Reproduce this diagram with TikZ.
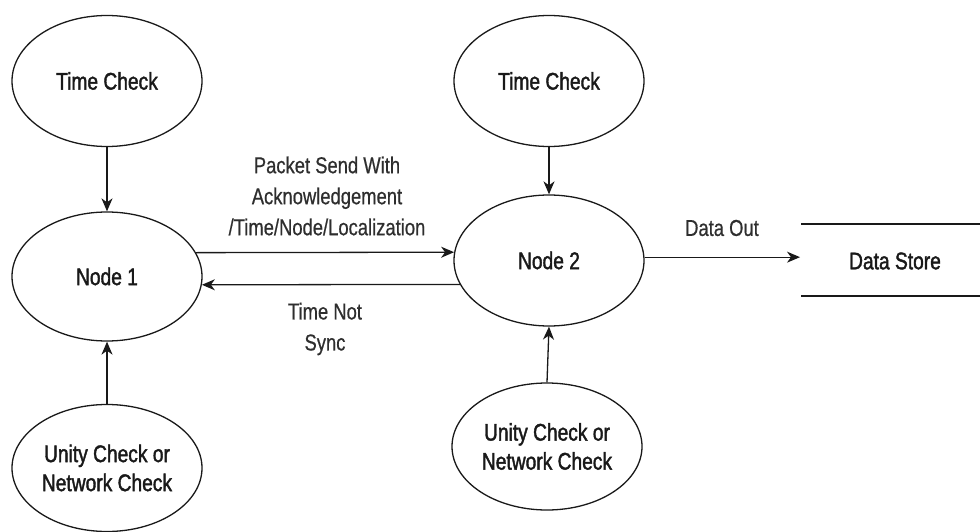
\documentclass[tikz,border=0pt]{standalone}
\usepackage{fontspec}
\setmainfont[FakeStretch=0.8]{Liberation Sans}
\newfontfamily\nodefont[FakeStretch=0.8,FakeBold=1.6]{Liberation Sans}
\newfontfamily\edgefont[FakeStretch=0.8,FakeBold=0.6]{Liberation Sans}
\usetikzlibrary{shapes.geometric,arrows.meta}
\definecolor{ink}{gray}{0.1}
\definecolor{lbl}{gray}{0.18}
\tikzset{
  bubble/.style={ellipse, draw=ink, line width=1.3pt, inner sep=0pt,
    minimum width=190pt, align=center, text=ink, font=\nodefont\fontsize{24}{29}\selectfont},
  arr/.style={draw=ink, line width=1.3pt, -{Stealth[length=13pt,width=11pt,inset=4pt]}},
  plain/.style={draw=ink, line width=1.3pt},
  elabel/.style={align=center, text=lbl, inner sep=0pt, font=\edgefont\fontsize{23}{31}\selectfont}
}
\begin{document}
\begin{tikzpicture}[x=1pt,y=-1pt]
\useasboundingbox (0,0) rectangle (980,532);
% nodes
\node[bubble, minimum height=131pt] (tc1) at (107,81) {Time Check};
\node[bubble, minimum height=129pt] (n1) at (107,276.5) {Node 1};
\node[bubble, minimum height=127pt] (uc1) at (107,468) {Unity Check or\\Network Check};
\node[bubble, minimum height=131pt] (tc2) at (549,81) {Time Check};
\node[bubble, minimum height=131pt] (n2) at (549,260.5) {Node 2};
\node[bubble, minimum height=127pt] (uc2) at (547,446.5) {Unity Check or\\Network Check};
\node[text=ink, inner sep=0pt, font=\nodefont\fontsize{24}{29}\selectfont] (ds) at (895,261) {Data Store};
% data store lines
\coordinate (dsTL) at (801,224);
\coordinate (dsTR) at (980,224);
\coordinate (dsBL) at (801,296);
\coordinate (dsBR) at (980,296);
\coordinate (dsin) at (800,257);
\draw[plain] (dsTL) -- (dsTR);
\draw[plain] (dsBL) -- (dsBR);
% connectors
\draw[arr] (tc1.south) -- (n1.north);
\draw[arr] (uc1.north) -- (n1.south);
\draw[arr] (tc2.south) -- (n2.north);
\draw[arr] (uc2.north) -- (n2.south);
\draw[arr] (n1.15) -- (n2.175);
\draw[arr] (n2.195) -- (n1.355);
\draw[arr] (n2.2) -- (n2.2 -| dsin);
% labels
\node[elabel] (lpk) at (327,196) {Packet Send With\\Acknowledgement\\/Time/Node/Localization};
\node[elabel] (ltn) at (325,329) {Time Not\\Sync};
\node[elabel] (ldo) at (722,228) {Data Out};
\end{tikzpicture}
\end{document}
